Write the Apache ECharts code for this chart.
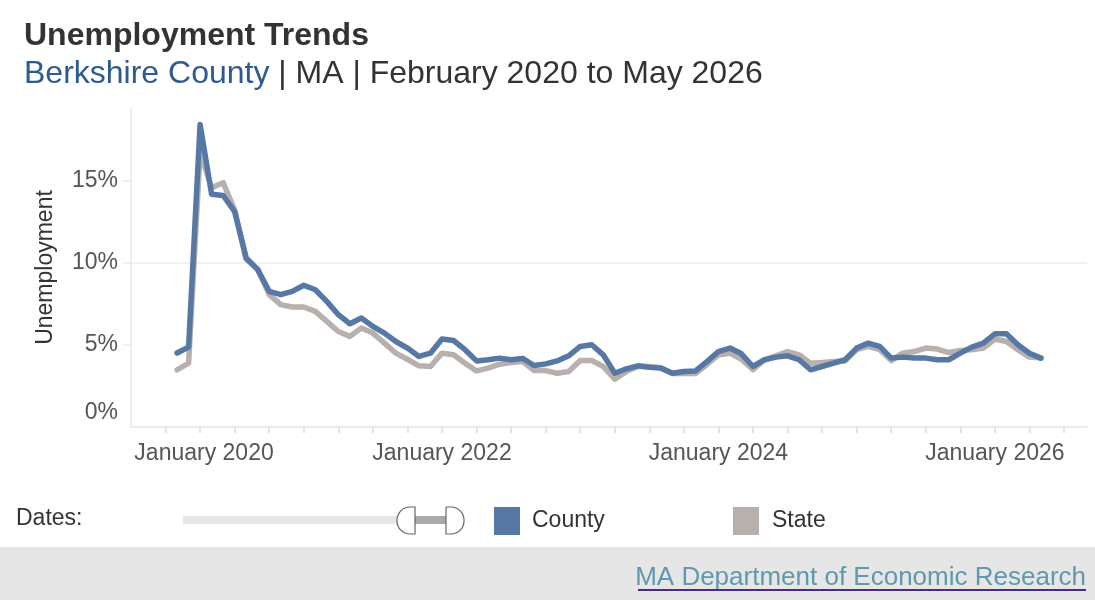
<!doctype html>
<html>
<head>
<meta charset="UTF-8">
<title>Unemployment Trends</title>
<script src="https://cdn.jsdelivr.net/npm/echarts@6/dist/echarts.min.js"></script>
<style>
	html, body { margin: 0; padding: 0; background: #fff; }
	#main { width: 1095px; height: 600px; }
</style>
</head>
<body>
<div id="main"></div>
<script>
// months shown, Feb 2020 .. May 2026
var months = [
	'2020-02','2020-03','2020-04','2020-05','2020-06','2020-07','2020-08','2020-09','2020-10','2020-11','2020-12',
	'2021-01','2021-02','2021-03','2021-04','2021-05','2021-06','2021-07','2021-08','2021-09','2021-10','2021-11','2021-12',
	'2022-01','2022-02','2022-03','2022-04','2022-05','2022-06','2022-07','2022-08','2022-09','2022-10','2022-11','2022-12',
	'2023-01','2023-02','2023-03','2023-04','2023-05','2023-06','2023-07','2023-08','2023-09','2023-10','2023-11','2023-12',
	'2024-01','2024-02','2024-03','2024-04','2024-05','2024-06','2024-07','2024-08','2024-09','2024-10','2024-11','2024-12',
	'2025-01','2025-02','2025-03','2025-04','2025-05','2025-06','2025-07','2025-08','2025-09','2025-10','2025-11','2025-12',
	'2026-01','2026-02','2026-03','2026-04','2026-05'
];
// Berkshire County, %
var county = [
	4.5, 4.86, 18.4, 14.15, 14.08, 13.1, 10.28, 9.57, 8.25, 8.05, 8.25,
	8.62, 8.35, 7.64, 6.83, 6.28, 6.63, 6.12, 5.71, 5.2, 4.8, 4.29, 4.49,
	5.35, 5.26, 4.7, 4.02, 4.09, 4.19, 4.09, 4.17, 3.74, 3.84, 4.02, 4.33,
	4.9, 5.0, 4.39, 3.27, 3.54, 3.72, 3.64, 3.58, 3.27, 3.37, 3.41, 3.98,
	4.59, 4.8, 4.45, 3.68, 4.09, 4.25, 4.33, 4.09, 3.48, 3.68, 3.88, 4.09,
	4.8, 5.1, 4.9, 4.19, 4.25, 4.19, 4.19, 4.09, 4.09, 4.49, 4.86, 5.1,
	5.67, 5.67, 5.0, 4.49, 4.19
];
// Massachusetts, %
var state = [
	3.48, 3.88, 16.7, 14.55, 14.86, 13.2, 10.2, 9.6, 8.05, 7.44, 7.3,
	7.3, 7.03, 6.42, 5.81, 5.51, 6.02, 5.71, 5.1, 4.49, 4.12, 3.72, 3.68,
	4.49, 4.39, 3.88, 3.41, 3.58, 3.82, 3.92, 3.98, 3.43, 3.43, 3.27, 3.37,
	4.04, 4.04, 3.68, 2.91, 3.37, 3.68, 3.68, 3.6, 3.25, 3.27, 3.25, 3.8,
	4.39, 4.49, 4.12, 3.48, 4.09, 4.33, 4.59, 4.39, 3.88, 3.92, 3.98, 4.02,
	4.7, 4.9, 4.7, 4.04, 4.49, 4.59, 4.8, 4.74, 4.53, 4.65, 4.7, 4.8,
	5.35, 5.2, 4.7, 4.25, 4.19
];
// x tick labels (months counted from January 2020)
var tickMonths = [0, 24, 48, 72];
var tickLabels = ['January 2020', 'January 2022', 'January 2024', 'January 2026'];
var yTicks = [0, 5, 10, 15];

var FONT = '"Liberation Sans", Arial, sans-serif';

function monthIndex(s){
	var p = s.split('-');
	return (+p[0] - 2020) * 12 + (+p[1] - 1);
}
function pairs(vals){
	return months.map(function(m, i){ return [monthIndex(m), vals[i]]; });
}
// quarter marks on the date axis, Jan 2020 .. Jul 2026
var quarterTicks = [];
for (var q = 0; q <= 78; q += 3) quarterTicks.push(q);

var chart = echarts.init(document.getElementById('main'));
var option = {
	animation: false,
	textStyle: { fontFamily: FONT },
	grid: { left: 131, right: 8, top: 108, bottom: 173 },
	xAxis: {
		type: 'value', min: -3, max: 80, interval: 3,
		axisLine: { show: true, onZero: false, lineStyle: { color: '#e8e8e8', width: 1.5 } },
		axisTick: { show: true, length: 6, customValues: quarterTicks, lineStyle: { color: '#dcdcdc', width: 1.5 } },
		splitLine: { show: false },
		axisLabel: {
			margin: 15, fontSize: 23, color: '#555', fontFamily: FONT,
			formatter: function(v){
				var k = tickMonths.indexOf(v);
				if (k < 0) return '';
				//first label is pushed right so it stays inside
				return k === 0 ? '{first|' + tickLabels[k] + '}' : tickLabels[k];
			},
			rich: { first: { padding: [0, 0, 0, 77], fontSize: 23, color: '#555', fontFamily: FONT } }
		}
	},
	yAxis: {
		type: 'value', min: 0, max: 19.4, interval: 5,
		name: 'Unemployment', nameLocation: 'middle', nameGap: 74,
		nameTextStyle: { fontSize: 23, color: '#333', fontFamily: FONT },
		axisLine: { show: true, onZero: false, lineStyle: { color: '#e8e8e8', width: 1.5 } },
		axisTick: { show: true, length: 8, customValues: [5, 10, 15], lineStyle: { color: '#ececec', width: 1.5 } },
		splitLine: { show: true, showMinLine: false, showMaxLine: false, lineStyle: { color: '#ececec', width: 1.5 } },
		axisLabel: {
			margin: 13, fontSize: 23, color: '#555', fontFamily: FONT,
			formatter: function(v){
				if (yTicks.indexOf(v) < 0) return '';
				if (v === 0) return '{z|0%}';
				return v + '%';
			},
			rich: { z: { padding: [0, 0, 28, 0], fontSize: 23, color: '#555', fontFamily: FONT } }
		}
	},
	legend: [
		{
			data: [{ name: 'County', itemStyle: { color: '#5778a4' } }],
			left: 494, top: 507, padding: 0, icon: 'rect', itemWidth: 26, itemHeight: 28,
			textStyle: { fontSize: 23, color: '#333', fontFamily: FONT, padding: [0, 0, 0, 7] },
			selectedMode: false
		},
		{
			data: [{ name: 'State', itemStyle: { color: '#b8b0ac' } }],
			left: 733, top: 507, padding: 0, icon: 'rect', itemWidth: 26, itemHeight: 28,
			textStyle: { fontSize: 23, color: '#333', fontFamily: FONT, padding: [0, 0, 0, 8] },
			selectedMode: false
		}
	],
	series: [
		{
			name: 'State', type: 'line', data: pairs(state), showSymbol: false, symbol: 'none',
			itemStyle: { color: '#b8b0ac' },
			lineStyle: { color: '#b8b0ac', width: 5.5, cap: 'round', join: 'round' }
		},
		{
			name: 'County', type: 'line', data: pairs(county), showSymbol: false, symbol: 'none',
			itemStyle: { color: '#5778a4' },
			lineStyle: { color: '#5778a4', width: 5.5, cap: 'round', join: 'round' }
		}
	],
	graphic: [
		{ type: 'text', left: 24, top: 20, style: { text: 'Unemployment Trends', font: 'bold 32px ' + FONT, fill: '#333' } },
		{
			type: 'text', left: 24, top: 58,
			style: {
				text: '{b|Berkshire County}{r| | MA | February 2020 to May 2026}',
				rich: {
					b: { fontSize: 32, fontFamily: FONT, fill: '#2d5a90' },
					r: { fontSize: 32, fontFamily: FONT, fill: '#333' }
				}
			}
		},
		{ type: 'text', left: 16, top: 507, style: { text: 'Dates:', font: '23px ' + FONT, fill: '#333' } },
		// date slider (static)
		{ type: 'rect', shape: { x: 183, y: 516, width: 215, height: 8 }, style: { fill: '#e6e6e6' } },
		{ type: 'rect', shape: { x: 415, y: 516, width: 31, height: 8 }, style: { fill: '#aaaaaa' } },
		{ type: 'rect', shape: { x: 397, y: 507, width: 18, height: 27, r: [13, 0, 0, 13] }, style: { fill: '#fff', stroke: '#666', lineWidth: 1.2 } },
		{ type: 'rect', shape: { x: 446, y: 507, width: 18, height: 27, r: [0, 13, 13, 0] }, style: { fill: '#fff', stroke: '#666', lineWidth: 1.2 } },
		// footer
		{ type: 'rect', shape: { x: 0, y: 547, width: 1095, height: 53 }, style: { fill: '#e6e6e6' } },
		{ type: 'text', right: 9, top: 565, style: { text: 'MA Department of Economic Research', font: '26px ' + FONT, fill: '#5e99ae' } },
		{ type: 'line', shape: { x1: 638, y1: 590, x2: 1086, y2: 590 }, style: { stroke: '#4b2a86', lineWidth: 2 } }
	]
};
chart.setOption(option);
</script>
</body>
</html>
